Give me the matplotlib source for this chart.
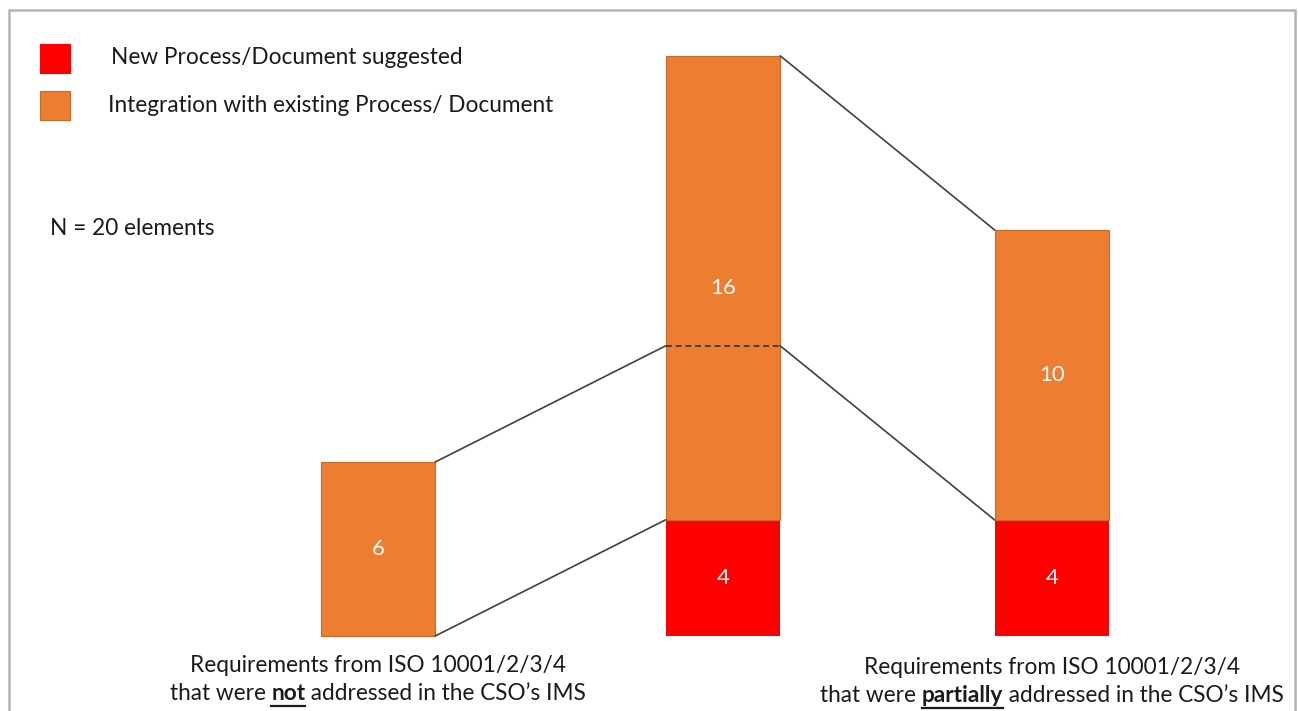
import matplotlib
matplotlib.use("Agg")
import matplotlib.pyplot as plt
from matplotlib.patches import Rectangle
from matplotlib.lines import Line2D

plt.rcParams['font.family'] = ['Lato', 'DejaVu Sans']

# ---- data -------------------------------------------------------------
groups = ["not addressed", "total", "partially addressed"]
new_process = [0, 4, 4]          # red: new process / document suggested
integration = [6, 16, 10]        # orange: integration with existing process
n_elements = 20

legend_labels = ["New Process/Document suggested",
                 "Integration with existing Process/ Document"]
label_line1 = "Requirements from ISO 10001/2/3/4"
label_not = [("that were ", False), ("not", True), (" addressed in the CSO\u2019s IMS", False)]
label_partial = [("that were ", False), ("partially", True), (" addressed in the CSO\u2019s IMS", False)]

# ---- style ------------------------------------------------------------
RED = "#FF0000"
ORANGE = "#ED7D31"
ORANGE_EDGE = "#C96A28"
LINE = "#404040"
TXT = "#1a1a1a"
FS = 16.3
W, H, DPI = 12.98, 7.11, 100

fig = plt.figure(figsize=(W, H), dpi=DPI)
ax = fig.add_axes([0, 0, 1, 1])
ax.set_axis_off()

xpos = [0.0, 1.0, 1.954]
bar_w = 0.333
ax.set_xlim(-1.0957, 2.667)
ax.set_ylim(-2.59, 21.93)

# stacked bars
ax.bar(xpos, new_process, width=bar_w, color=RED, edgecolor="none", zorder=2)
ax.bar(xpos, integration, bottom=new_process, width=bar_w, color=ORANGE,
       edgecolor=ORANGE_EDGE, linewidth=0.8, zorder=2)

# value labels
for x, r, o in zip(xpos, new_process, integration):
    if r > 0:
        ax.text(x, r / 2, str(r), color="white", ha="center", va="center",
                fontsize=16, zorder=4)
    ax.text(x, r + o / 2, str(o), color="white", ha="center", va="center",
            fontsize=16, zorder=4)

# dashed split inside the middle bar: the part that comes from the left bar
split = new_process[1] + integration[0]
half = bar_w / 2
ax.plot([xpos[1] - half, xpos[1] + half], [split, split], ls=(0, (3, 2)),
        color=LINE, lw=1.4, zorder=3)

# connectors
left_top = new_process[0] + integration[0]
right_top = new_process[2] + integration[2]
mid_top = new_process[1] + integration[1]
segs = [
    ((xpos[0] + half, left_top), (xpos[1] - half, split)),
    ((xpos[0] + half, 0), (xpos[1] - half, new_process[1])),
    ((xpos[1] + half, mid_top), (xpos[2] - half, right_top)),
    ((xpos[1] + half, split), (xpos[2] - half, new_process[2])),
]
for (x0, y0), (x1, y1) in segs:
    ax.plot([x0, x1], [y0, y1], color=LINE, lw=1.2, zorder=3)

# ---- figure-level text in pixel coords (origin top-left) ---------------
def px(x, y):
    return x / (W * DPI), 1 - y / (H * DPI)

# legend
for (yy, col, edge), lab, tx in zip([(44, RED, RED), (91, ORANGE, ORANGE_EDGE)],
                                    legend_labels, [111, 108]):
    x0, y0 = px(40, yy + 29)
    fig.patches.append(Rectangle((x0, y0), 30 / (W * DPI), 29 / (H * DPI),
                                 transform=fig.transFigure, facecolor=col,
                                 edgecolor=edge, lw=0.8))
    fig.text(*px(tx, yy + 14), lab, fontsize=FS, color=TXT,
             ha="left", va="center")

fig.text(*px(50, 228), f"N = {n_elements} elements", fontsize=FS,
         color=TXT, ha="left", va="center")

renderer = fig.canvas.get_renderer()


def rich_line(cx, cy, parts):
    texts = []
    for s, bold in parts:
        t = fig.text(0, 0, s, fontsize=FS, color=TXT, ha="left",
                     va="center", fontweight="bold" if bold else "normal")
        texts.append((t, bold))
    widths = [t.get_window_extent(renderer).width for t, _ in texts]
    x = cx - sum(widths) / 2
    for (t, bold), w in zip(texts, widths):
        t.set_position(px(x, cy))
        if bold:
            ux0, uy = px(x, cy + 12)
            ux1, _ = px(x + w, cy + 12)
            fig.lines.append(Line2D([ux0, ux1], [uy, uy], color=TXT,
                                    lw=1.6, transform=fig.transFigure))
        x += w


def centre_px(i):
    return ax.transData.transform((xpos[i], 0))[0]


for i, second in [(0, label_not), (2, label_partial)]:
    cx = centre_px(i)
    base = 665 if i == 0 else 667
    fig.text(*px(cx, base), label_line1, fontsize=FS, color=TXT,
             ha="center", va="center")
    rich_line(cx, base + 29, second)

# outer frame
fx0, fy0 = px(9, 800)
fx1, fy1 = px(1295, 10)
fig.patches.append(Rectangle((fx0, fy0), fx1 - fx0, fy1 - fy0,
                             transform=fig.transFigure, facecolor="none",
                             edgecolor="#B4B4B4", lw=1.8, clip_on=False))

fig.savefig("out.png", dpi=DPI, facecolor="white")
